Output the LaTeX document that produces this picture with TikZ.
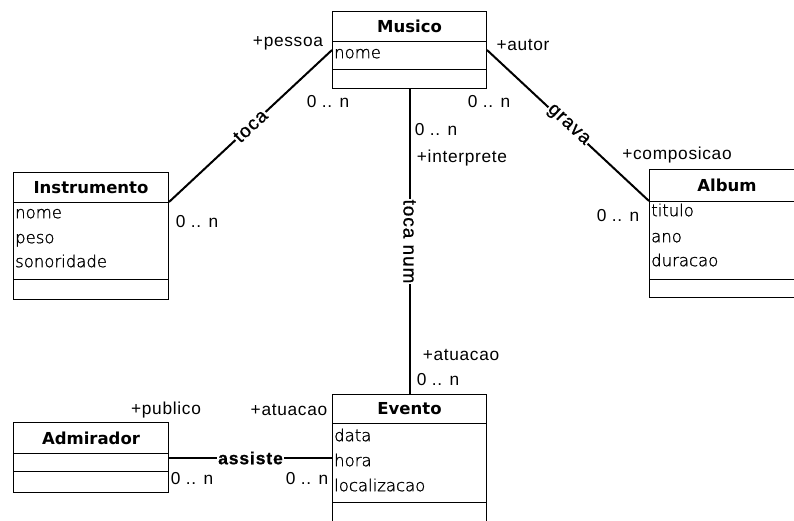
\documentclass[tikz,border=0pt]{standalone}
\usepackage{fontspec}
\usetikzlibrary{calc}
\newfontfamily\lblfont{Liberation Sans}[LetterSpace=4.0]
\newfontfamily\assocfont{Liberation Sans}[FakeBold=0.8,LetterSpace=5.0]
\newfontfamily\clsfont{DejaVu Sans}
\newfontfamily\attfont{DejaVu Sans ExtraLight}[FakeBold=1.2]
\begin{document}
\begin{tikzpicture}[x=1pt,y=-1pt,
  part/.style={draw=black,line width=1pt,inner sep=0pt,anchor=north west},
  clsname/.style={font=\clsfont\bfseries\fontsize{16.5}{18}\selectfont},
  attr/.style={anchor=mid west,inner sep=0pt,font=\attfont\fontsize{16.5}{18}\selectfont},
  role/.style={inner sep=0pt,font=\lblfont\fontsize{17.3}{19}\selectfont},
  assoc/.style={line width=2pt},
  assoclbl/.style={fill=white,inner sep=1pt,font=\assocfont\fontsize{19}{21}\selectfont}]
\useasboundingbox (0,0) rectangle (794,520);
\clip (0,0) rectangle (794,520);

% Musico
\node[part,minimum width=154,minimum height=30,clsname] (musico-head) at (332,11) {Musico};
\node[part,minimum width=154,minimum height=28] (musico-attr) at (332,41) {};
\node[part,minimum width=154,minimum height=19] (musico-ops) at (332,69) {};
\node[attr] (musico-a1) at (334,56) {nome};

% Instrumento
\node[part,minimum width=155,minimum height=30,clsname] (instr-head) at (13,172) {Instrumento};
\node[part,minimum width=155,minimum height=77] (instr-attr) at (13,202) {};
\node[part,minimum width=155,minimum height=20] (instr-ops) at (13,279) {};
\node[attr] (instr-a1) at (15,216) {nome};
\node[attr] (instr-a2) at (15,241) {peso};
\node[attr] (instr-a3) at (15,265) {sonoridade};

% Album
\node[part,minimum width=156,minimum height=32] (album-head) at (649,169) {};
\node[clsname] (album-name) at (727,185) {Album};
\node[part,minimum width=156,minimum height=78] (album-attr) at (649,201) {};
\node[part,minimum width=156,minimum height=18] (album-ops) at (649,279) {};
\node[attr] (album-a1) at (651,214) {titulo};
\node[attr] (album-a2) at (651,240) {ano};
\node[attr] (album-a3) at (651,264) {duracao};

% Admirador
\node[part,minimum width=155,minimum height=31,clsname] (admir-head) at (13,422) {Admirador};
\node[part,minimum width=155,minimum height=18] (admir-attr) at (13,453) {};
\node[part,minimum width=155,minimum height=21] (admir-ops) at (13,471) {};

% Evento
\node[part,minimum width=154,minimum height=29,clsname] (evento-head) at (332,394) {Evento};
\node[part,minimum width=154,minimum height=79] (evento-attr) at (332,423) {};
\node[part,minimum width=154,minimum height=30] (evento-ops) at (332,502) {};
\node[attr] (evento-a1) at (334,439) {data};
\node[attr] (evento-a2) at (334,464) {hora};
\node[attr] (evento-a3) at (334,489) {localizacao};

% associations
\draw[assoc] ($(musico-attr.north west)+(0,9)$) -- (instr-attr.north east)
  node[assoclbl,midway,sloped] (toca-lbl) {toca};
\draw[assoc] ($(musico-attr.north east)+(0,9)$) -- (album-attr.north west)
  node[assoclbl,midway,sloped] (grava-lbl) {grava};
\draw[assoc] (musico-ops.south) -- (evento-head.north)
  node[assoclbl,midway,rotate=-90] (tocanum-lbl) {toca num};
\draw[assoc] ($(admir-attr.north east)+(0,5)$) coordinate (assiste-a)
  -- (assiste-a -| evento-attr.west)
  node[assoclbl,midway,font=\assocfont\bfseries\fontsize{17.5}{19}\selectfont] (assiste-lbl) {assiste};

% roles and multiplicities
\node[role] (r-pessoa) at (288,43) {+pessoa};
\node[role] (m-mus-l) at (328,102) {0 .. n};
\node[role] (r-autor) at (523,45) {+autor};
\node[role] (m-mus-r) at (489,102) {0 .. n};
\node[role] (m-mus-b) at (436,130) {0 .. n};
\node[role] (r-interp) at (462,158) {+interprete};
\node[role] (m-instr) at (197,222) {0 .. n};
\node[role] (r-compos) at (677,155) {+composicao};
\node[role] (m-album) at (618,216) {0 .. n};
\node[role] (r-atuac-t) at (461,355) {+atuacao};
\node[role] (m-evt-t) at (438,380) {0 .. n};
\node[role] (r-publico) at (166,410) {+publico};
\node[role] (r-atuac-l) at (289,410) {+atuacao};
\node[role] (m-admir) at (192,479) {0 .. n};
\node[role] (m-evt-l) at (307,479) {0 .. n};
\end{tikzpicture}
\end{document}
